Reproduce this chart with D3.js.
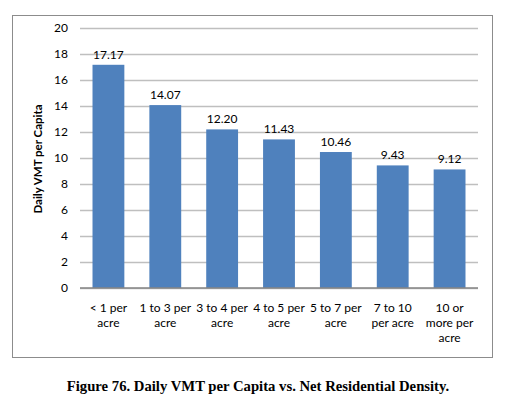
<!DOCTYPE html>
<html>
<head>
<meta charset="utf-8">
<script src="https://cdn.jsdelivr.net/npm/d3@7"></script>
<style>
  body { margin: 0; background: #fff; }
  text { font-family: Lato, "Open Sans", sans-serif; }
</style>
</head>
<body>
<script>
// chart data
var categories = ["< 1 per acre", "1 to 3 per acre", "3 to 4 per acre", "4 to 5 per acre",
                  "5 to 7 per acre", "7 to 10 per acre", "10 or more per acre"];
var catLines = [["< 1 per", "acre"], ["1 to 3 per", "acre"], ["3 to 4 per", "acre"], ["4 to 5 per", "acre"],
                ["5 to 7 per", "acre"], ["7 to 10", "per acre"], ["10 or", "more per", "acre"]];
var vmt = [17.17, 14.07, 12.20, 11.43, 10.46, 9.43, 9.12];
var yTicks = [0, 2, 4, 6, 8, 10, 12, 14, 16, 18, 20];

var width = 510, height = 405;
var plot = {left: 80, right: 478, top: 28, bottom: 288};

var svg = d3.select("body").append("svg")
    .attr("width", width)
    .attr("height", height);

// outer chart frame
svg.append("rect")
    .attr("x", 12.5).attr("y", 15.5)
    .attr("width", 480).attr("height", 342)
    .attr("fill", "#fff")
    .attr("stroke", "#8c8c8c")
    .attr("stroke-width", 1);

var x = d3.scaleBand()
    .domain(categories)
    .range([plot.left, plot.right])
    .paddingInner(0.44)
    .paddingOuter(0.22);

var y = d3.scaleLinear()
    .domain([0, 20])
    .range([plot.bottom, plot.top]);

// gridlines + y labels
var yAxis = svg.append("g")
    .attr("transform", "translate(" + plot.left + ",0)")
    .call(d3.axisLeft(y).tickValues(yTicks).tickSize(-(plot.right - plot.left)).tickPadding(12));
yAxis.select(".domain").remove();
yAxis.selectAll(".tick line").attr("stroke", "#bfbfbf").attr("stroke-width", 1.3);
yAxis.selectAll(".tick text")
    .attr("fill", "#000")
    .style("font-size", "12px")
    .style("font-family", "Lato, 'Open Sans', sans-serif");

// bars
svg.append("g").selectAll("rect")
    .data(vmt)
    .enter().append("rect")
    .attr("x", function (d, i) { return x(categories[i]); })
    .attr("y", function (d) { return y(d); })
    .attr("width", x.bandwidth())
    .attr("height", function (d) { return y(0) - y(d); })
    .attr("fill", "#4f81bd");

// value labels
svg.append("g").selectAll("text")
    .data(vmt)
    .enter().append("text")
    .attr("x", function (d, i) { return x(categories[i]) + x.bandwidth() / 2; })
    .attr("y", function (d) { return y(d) - 6; })
    .attr("text-anchor", "middle")
    .style("font-size", "12px")
    .text(function (d) { return d.toFixed(2); });

// baseline
svg.append("line")
    .attr("x1", plot.left).attr("x2", plot.right)
    .attr("y1", y(0)).attr("y2", y(0))
    .attr("stroke", "#868686")
    .attr("stroke-width", 1.3);

// category labels
var xl = svg.append("g").selectAll("text")
    .data(catLines)
    .enter().append("text")
    .attr("text-anchor", "middle")
    .style("font-size", "12px")
    .attr("transform", function (d, i) {
        return "translate(" + (x(categories[i]) + x.bandwidth() / 2) + "," + (y(0) + 24) + ")";
    });
xl.selectAll("tspan")
    .data(function (d) { return d; })
    .enter().append("tspan")
    .attr("x", 0)
    .attr("y", function (d, j) { return j * 15; })
    .text(function (d) { return d; });

// y axis title
svg.append("text")
    .attr("transform", "translate(42,159) rotate(-90)")
    .attr("text-anchor", "middle")
    .style("font-size", "11.5px")
    .style("font-weight", "bold")
    .text("Daily VMT per Capita");

// figure caption
svg.append("text")
    .attr("x", 258)
    .attr("y", 391)
    .attr("text-anchor", "middle")
    .style("font-family", "'Liberation Serif', 'DejaVu Serif', serif")
    .style("font-size", "14.7px")
    .style("font-weight", "bold")
    .text("Figure 76. Daily VMT per Capita vs. Net Residential Density.");
</script>
</body>
</html>
